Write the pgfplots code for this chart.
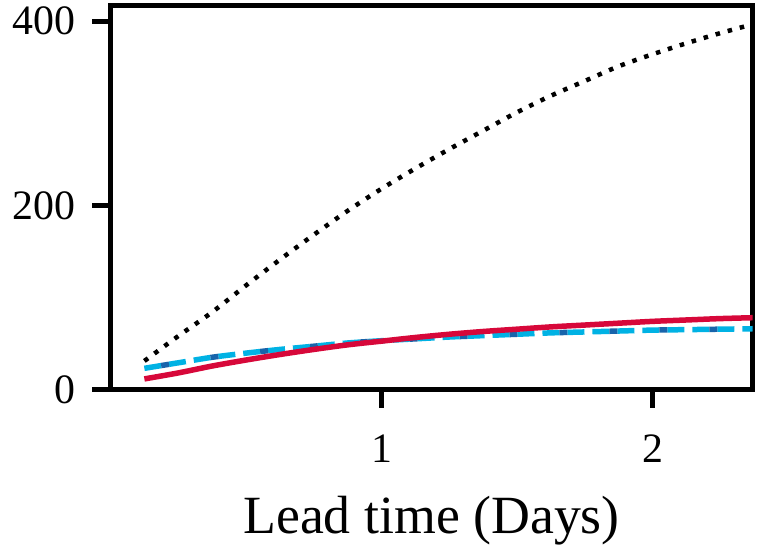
\documentclass[border=0pt]{standalone}
\usepackage{fontspec}
\setmainfont{Liberation Serif}
\usepackage{pgfplots}
\pgfplotsset{compat=1.18}
\definecolor{cred}{RGB}{215,8,58}
\definecolor{clblue}{RGB}{0,178,228}
\definecolor{cdblue}{RGB}{23,100,171}
\begin{document}
\begin{tikzpicture}
\path[use as bounding box] (-110.5bp,-165.5bp) rectangle (650.5bp,389.5bp);
\begin{axis}[
  scale only axis, width=642bp, height=384bp,
  xmin=0, xmax=2.369, ymin=0, ymax=417,
  axis line style={line width=5bp, line cap=rect},
  xtick={1,2}, ytick={0,200,400},
  xtick pos=left, ytick pos=left,
  tick align=outside, major tick length=18bp,
  every tick/.style={black, line width=5bp},
  /pgf/number format/assume math mode=true,
  ticklabel style={font=\fontsize{42}{42}\selectfont},
  yticklabel style={anchor=east, xshift=-14bp},
  xticklabel style={yshift=-24bp},
  xlabel={Lead time (Days)},
  xlabel style={font=\fontsize{54}{54}\selectfont, at={(axis description cs:0.5,0)}, anchor=base, yshift=-143.5bp},
  clip=true,
]
\addplot[black, line width=4.5bp, dash pattern=on 4.5bp off 8bp, smooth] coordinates {
(0.125,31) (0.25,58) (0.375,84) (0.5,113) (0.625,141) (0.75,168) (0.875,194)
(1.0,218) (1.125,240) (1.25,261) (1.375,281) (1.5,301) (1.625,319) (1.75,335)
(1.875,351) (2.0,364) (2.125,376) (2.25,387) (2.375,397)};
\addplot[clblue, line width=5.5bp, dash pattern=on 17bp off 8bp, smooth] coordinates {
(0.125,23) (0.25,29) (0.375,35) (0.5,39.5) (0.625,43.5) (0.75,47) (0.875,50.5)
(1.0,53) (1.125,55) (1.25,57) (1.375,58.5) (1.5,60) (1.625,61.5) (1.75,62.5)
(1.875,63.5) (2.0,64.5) (2.125,65) (2.25,65.5) (2.375,66)};
\addplot[cdblue, line width=5.5bp, dash pattern=on 8bp off 42bp, dash phase=33bp, smooth] coordinates {
(0.125,23) (0.25,29) (0.375,35) (0.5,39.5) (0.625,43.5) (0.75,47) (0.875,50.5)
(1.0,53) (1.125,55) (1.25,57) (1.375,58.5) (1.5,60) (1.625,61.5) (1.75,62.5)
(1.875,63.5) (2.0,64.5) (2.125,65) (2.25,65.5) (2.375,66)};
\addplot[cred, line width=5.5bp, smooth] coordinates {
(0.125,11.5) (0.25,18) (0.375,25.5) (0.5,32) (0.625,38) (0.75,43.5) (0.875,48.5)
(1.0,52.5) (1.125,56.5) (1.25,60) (1.375,63) (1.5,65.5) (1.625,68) (1.75,70)
(1.875,72) (2.0,74) (2.125,75.5) (2.25,77) (2.375,78)};
\end{axis}
\end{tikzpicture}
\end{document}
